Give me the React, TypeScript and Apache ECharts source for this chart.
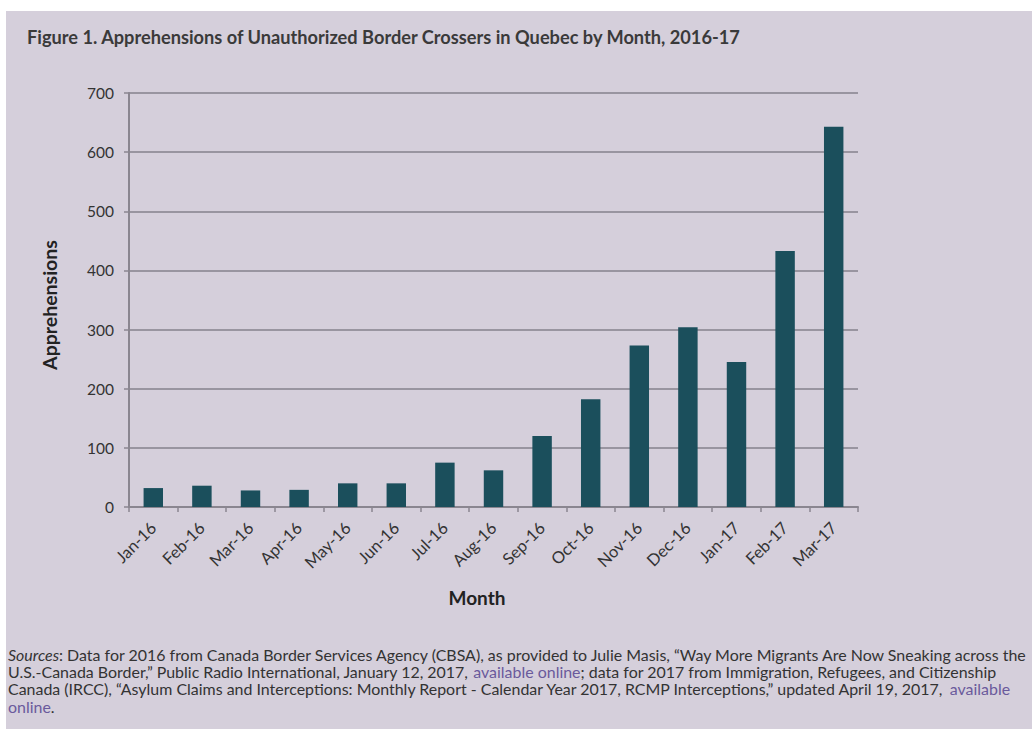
import React, { useEffect, useRef } from "react";
import * as echarts from "echarts";

const months = [
  "Jan-16", "Feb-16", "Mar-16", "Apr-16", "May-16", "Jun-16", "Jul-16", "Aug-16",
  "Sep-16", "Oct-16", "Nov-16", "Dec-16", "Jan-17", "Feb-17", "Mar-17",
];
const apprehensions = [32, 36, 28, 29, 40, 40, 75, 62, 120, 182, 273, 304, 245, 433, 643];
const yMin = 0;
const yMax = 700;
const yStep = 100;

const titleText =
  "Figure 1. Apprehensions of Unauthorized Border Crossers in Quebec by Month, 2016-17";
const yAxisTitle = "Apprehensions";
const xAxisTitle = "Month";
const sourceLines = [
  "{i|Sources}{n|: Data for 2016 from Canada Border Services Agency (CBSA), as provided to Julie Masis, \u201cWay More Migrants Are Now Sneaking across the}",
  "{n|U.S.-Canada Border,\u201d Public Radio International, January 12, 2017, }{l|available online}{n|; data for 2017 from Immigration, Refugees, and Citizenship}",
  "{n|Canada (IRCC), \u201cAsylum Claims and Interceptions: Monthly Report - Calendar Year 2017, RCMP Interceptions,\u201d updated April 19, 2017,}{l| available}",
  "{l|online}{n|.}",
];

const FONT = "Lato, 'Open Sans', sans-serif";
const TEXT = "#333333";
const GRAY = "#8a8690";

export default function App() {
  const ref = useRef<HTMLDivElement>(null);
  useEffect(() => {
    if (!ref.current) return;
    const chart = echarts.init(ref.current, undefined, { renderer: "svg" });
    const srcY = [644, 661.5, 678.5, 696];
    const SRC = 14.5;
    const rich = {
      n: { fontFamily: FONT, fontSize: SRC, fill: TEXT },
      i: { fontFamily: FONT, fontSize: SRC, fill: TEXT, fontStyle: "italic" },
      l: { fontFamily: FONT, fontSize: SRC, fill: "#6a5a9c" },
    };
    chart.setOption({
      animation: false,
      backgroundColor: "#d5cfdb",
      textStyle: { fontFamily: FONT },
      grid: { left: 123, top: 82, width: 729, height: 414 },
      xAxis: {
        type: "category",
        data: months,
        axisLine: { lineStyle: { color: GRAY, width: 2 } },
        axisTick: { show: true, length: 5, lineStyle: { color: GRAY, width: 1.5 } },
        axisLabel: {
          rotate: 45,
          fontSize: 16.5,
          color: TEXT,
          fontFamily: FONT,
          margin: 18,
          interval: 0,
        },
      },
      yAxis: {
        type: "value",
        min: yMin,
        max: yMax,
        interval: yStep,
        axisLine: { show: true, lineStyle: { color: GRAY, width: 2 } },
        axisTick: { show: true, length: 5, lineStyle: { color: GRAY, width: 1.5 } },
        axisLabel: { fontSize: 15.5, color: TEXT, fontFamily: FONT, margin: 15 },
        splitLine: { show: true, lineStyle: { color: "#85828c", width: 1.5 } },
      },
      series: [
        {
          type: "bar",
          data: apprehensions,
          barWidth: "40%",
          itemStyle: { color: "#1b4f5c" },
        },
      ],
      graphic: [
        {
          type: "text",
          x: 21,
          y: 26,
          scaleX: 1.012,
          style: {
            text: titleText,
            fontFamily: FONT,
            fontSize: 18,
            fontWeight: "bold",
            fill: "#3a3a3a",
            textAlign: "left",
            textVerticalAlign: "middle",
          },
        },
        {
          type: "text",
          x: 43,
          y: 294,
          rotation: Math.PI / 2,
          style: {
            text: yAxisTitle,
            fontFamily: FONT,
            fontSize: 19.5,
            fontWeight: "bold",
            fill: "#222222",
            textAlign: "center",
            textVerticalAlign: "middle",
          },
        },
        {
          type: "text",
          x: 471,
          y: 586,
          style: {
            text: xAxisTitle,
            fontFamily: FONT,
            fontSize: 19,
            fontWeight: "bold",
            fill: "#222222",
            textAlign: "center",
            textVerticalAlign: "middle",
          },
        },
        ...sourceLines.map((t, k) => ({
          type: "text",
          x: 2,
          y: srcY[k],
          scaleX: 1.1,
          style: {
            text: t,
            rich,
            textAlign: "left",
            textVerticalAlign: "middle",
          },
        })),
      ],
    });
    return () => chart.dispose();
  }, []);
  return (
    <div style={{ position: "absolute", left: 0, top: 0, width: 1032, height: 729, background: "#ffffff" }}>
      <div
        ref={ref}
        style={{ position: "absolute", left: 6, top: 11, width: 1026, height: 718 }}
      />
    </div>
  );
}
